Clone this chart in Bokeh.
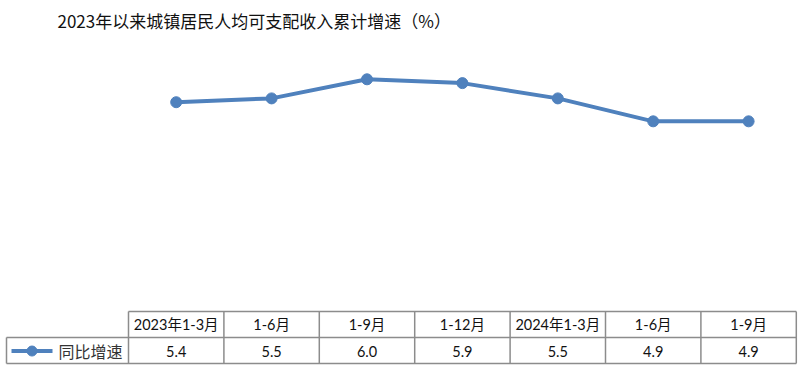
from bokeh.plotting import figure
from bokeh.models import ColumnDataSource, Range1d, Label
from bokeh.core.properties import value
from bokeh.embed import file_html
from bokeh.resources import INLINE

# ---- data ----
title_text = "2023年以来城镇居民人均可支配收入累计增速（%）"
categories = ["2023年1-3月", "1-6月", "1-9月", "1-12月", "2024年1-3月", "1-6月", "1-9月"]
growth = [5.4, 5.5, 6.0, 5.9, 5.5, 4.9, 4.9]
series_name = "同比增速"

LINE_COLOR = "#4F81BD"
BORDER = "#8C8C8C"
CJK = "Noto Sans CJK SC"
TBL_FONT = "Lato, Noto Sans CJK SC"

W, H = 800, 367
col_w = 95.4           # px per category column
x0_px = 128            # table left edge (categories)
px_per_unit = 38.2     # px per 1 percentage point
zero_px = 308          # y=0 position from top
row_h = 26             # table row height px
tbl_bottom_px = 363

x_start = -x0_px / col_w
x_end = (W - x0_px) / col_w
y_start = -(H - zero_px) / px_per_unit
y_end = zero_px / px_per_unit

p = figure(width=W, height=H, output_backend="svg", toolbar_location=None,
           x_range=Range1d(x_start, x_end), y_range=Range1d(y_start, y_end),
           x_axis_location=None, y_axis_location=None, min_border=0,
           outline_line_color=None, background_fill_color="white",
           border_fill_color="white")
p.grid.visible = False
p.extra_y_ranges = {"tbl": Range1d(-(H - tbl_bottom_px) / row_h, tbl_bottom_px / row_h)}

xs = [i + 0.5 for i in range(len(categories))]
src = ColumnDataSource(dict(x=xs, y=growth, cat=categories,
                            val=[f"{v:.1f}" for v in growth]))

p.line("x", "y", source=src, line_color=LINE_COLOR, line_width=4)
p.scatter("x", "y", source=src, size=11, fill_color=LINE_COLOR, line_color=LINE_COLOR)

# ---- table ----
n = len(categories)
leg_left = (6 - x0_px) / col_w
# horizontal lines
p.segment(x0=[0, leg_left, leg_left], y0=[2, 1, 0], x1=[n, n, n], y1=[2, 1, 0],
          y_range_name="tbl", line_color=BORDER, line_width=1.5)
# vertical lines
vx = list(range(n + 1))
p.segment(x0=vx, y0=[0] * len(vx), x1=vx, y1=[2] * len(vx),
          y_range_name="tbl", line_color=BORDER, line_width=1.5)
p.segment(x0=[leg_left], y0=[0], x1=[leg_left], y1=[1],
          y_range_name="tbl", line_color=BORDER, line_width=1.5)

p.text("x", value(1.5), text="cat", source=src, y_range_name="tbl",
       text_font=value(TBL_FONT), text_font_size="14.5px", text_color="#111111",
       text_align="center", text_baseline="middle")
p.text("x", value(0.48), text="val", source=src, y_range_name="tbl",
       text_font=value(TBL_FONT), text_font_size="14.5px", text_color="#111111",
       text_align="center", text_baseline="middle")

# legend key in table
lx0 = (11 - x0_px) / col_w
lx1 = (52 - x0_px) / col_w
p.line([lx0, lx1], [0.48, 0.48], y_range_name="tbl", line_color=LINE_COLOR, line_width=4)
p.scatter([(lx0 + lx1) / 2], [0.48], y_range_name="tbl", size=10,
          fill_color=LINE_COLOR, line_color=LINE_COLOR)
p.text([(58 - x0_px) / col_w], [0.48], text=[series_name], y_range_name="tbl",
       text_font=value(CJK), text_font_size="16px", text_color="#333333",
       text_align="left", text_baseline="middle")

# ---- title ----
p.add_layout(Label(x=57, y=H - 20, x_units="screen", y_units="screen", text=title_text,
                   text_font=CJK, text_font_size="17px", text_color="#111111",
                   text_align="left", text_baseline="middle"))

open("out.html", "w").write(file_html(p, INLINE))
